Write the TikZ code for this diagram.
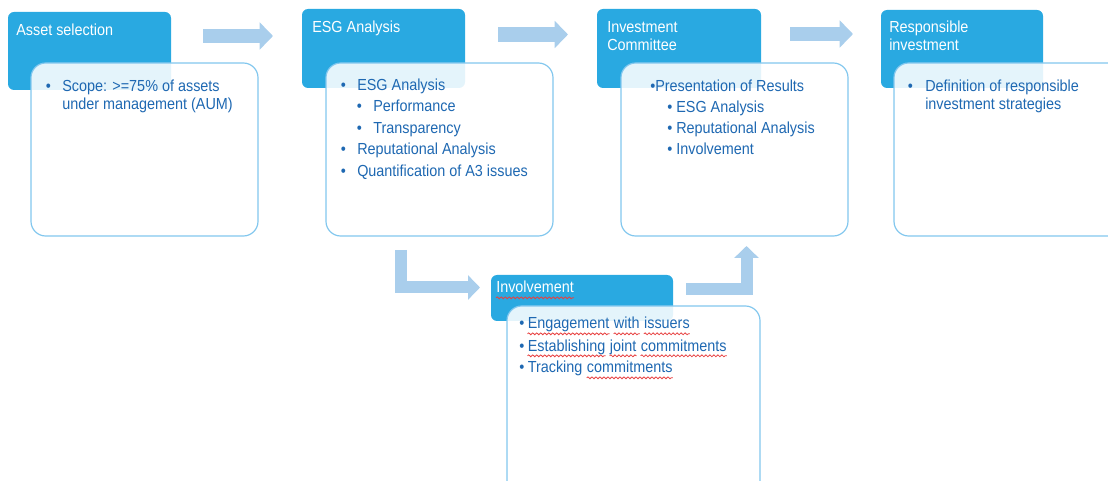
\documentclass[tikz,border=0pt]{standalone}
\usepackage{fontspec}
\setmainfont{Liberation Sans}[FakeStretch=0.9]
\usetikzlibrary{positioning}
\usetikzlibrary{arrows.meta}
\usetikzlibrary{decorations.pathmorphing}

\definecolor{hdrblue}{RGB}{41,169,225}
\definecolor{pale}{RGB}{169,206,236}
\definecolor{edge}{RGB}{130,199,238}
\definecolor{ink}{RGB}{30,104,178}
\definecolor{typo}{RGB}{232,64,64}

\tikzset{
  hdr/.style={fill=hdrblue,draw=none,rounded corners=4.5pt},
  body/.style={draw=edge,fill=white,fill opacity=0.88,rounded corners=11pt,line width=0.9pt},
  ttl/.style={text=white,anchor=base west,inner sep=0pt,font=\fontsize{12}{14}\selectfont},
  itm/.style={text=ink,anchor=base west,inner sep=0pt,font=\fontsize{12}{14}\selectfont},
  flow/.style={pale,line width=11pt,line join=miter,-{Triangle[width=20pt,length=10pt]}},
  elbow/.style={flow,line width=9pt,-{Triangle[width=18pt,length=9pt]}},
  wave/.style={typo,line width=0.6pt,decorate,decoration={snake,amplitude=0.7pt,segment length=3pt}}
}

\begin{document}
\begin{tikzpicture}[x=0.75pt,y=-0.75pt]
\useasboundingbox (0,0) rectangle (1108,481);

\draw[hdr] (8,12) rectangle (171,90);
\draw[body] (31,63) rectangle (258,236);
\draw[hdr] (302,9) rectangle (465,88);
\draw[body] (326,63) rectangle (553,236);
\draw[hdr] (597,9) rectangle (761,88);
\draw[body] (621,63) rectangle (848,236);
\draw[hdr] (881,10) rectangle (1043,88);
\draw[body] (894,63) rectangle (1125,236);
\draw[hdr] (491,275) rectangle (673,321);
\draw[body] (507,306) rectangle (760,495);

% arrows between the steps
\coordinate (a1s) at (203,36);  \coordinate (a1e) at (273,36);
\coordinate (a2s) at (498,34.5); \coordinate (a2e) at (568,34.5);
\coordinate (a3s) at (790,34);  \coordinate (a3e) at (853,34);
\coordinate (d1s) at (400.5,250); \coordinate (d1e) at (480,287.5);
\coordinate (u1s) at (686,289); \coordinate (u1e) at (746.5,246);
\draw[flow] (a1s) -- (a1e);
\draw[flow] (a2s) -- (a2e);
\draw[flow] (a3s) -- (a3e);
\draw[elbow] (d1s) |- (d1e);
\draw[elbow] (u1s) -| (u1e);

% step titles
\node[ttl] (t1) at (16,36) {Asset selection};
\node[ttl] (t2) at (312,33) {ESG Analysis};
\node[ttl] (t3a) at (607,33) {Investment};
\node[ttl] (t3b) at (607,51) {Committee};
\node[ttl] (t4a) at (889,33) {Responsible};
\node[ttl] (t4b) at (889,51) {investment};
\node[ttl] (t5) at (496,293) {Involvement};

% step contents
\node[itm] (b1) at (45.5,92) {•};
\node[itm] (s1a) at (62,92) {Scope: >=75\% of assets};
\node[itm] (s1b) at (62,110) {under management (AUM)};

\node[itm] (b2a) at (340.5,91) {•};
\node[itm] (s2a) at (357,91) {ESG Analysis};
\node[itm] (b2b) at (356.5,112) {•};
\node[itm] (s2b) at (373,112) {Performance};
\node[itm] (b2c) at (356.5,134) {•};
\node[itm] (s2c) at (373,134) {Transparency};
\node[itm] (b2d) at (340.5,155) {•};
\node[itm] (s2d) at (357,155) {Reputational Analysis};
\node[itm] (b2e) at (340.5,177) {•};
\node[itm] (s2e) at (357,177) {Quantification of A3 issues};

\node[itm] (s3a) at (650,92) {•Presentation of Results};
\node[itm] (s3b) at (667,113) {• ESG Analysis};
\node[itm] (s3c) at (667,134) {• Reputational Analysis};
\node[itm] (s3d) at (667,155) {• Involvement};

\node[itm] (b4) at (907.5,92) {•};
\node[itm] (s4a) at (925,92) {Definition of responsible};
\node[itm] (s4b) at (925,110) {investment strategies};

% involvement items, one node per word
\node[itm] (b5a) at (519,329) {•};
\node[itm,base right=2.2pt of b5a] (w5a) {Engagement};
\node[itm,base right=3pt of w5a] (w5b) {with};
\node[itm,base right=3pt of w5b] (w5c) {issuers};
\node[itm] (b5b) at (519,351) {•};
\node[itm,base right=2.2pt of b5b] (w5d) {Establishing};
\node[itm,base right=3pt of w5d] (w5e) {joint};
\node[itm,base right=3pt of w5e] (w5f) {commitments};
\node[itm] (b5c) at (519,373) {•};
\node[itm,base right=2.2pt of b5c] (w5g) {Tracking};
\node[itm,base right=3pt of w5g] (w5h) {commitments};

\foreach \w in {t5,w5a,w5b,w5c,w5d,w5e,w5f,w5h}
  \draw[wave] ([yshift=-3.6pt]\w.base west) -- ([yshift=-3.6pt]\w.base east);

\end{tikzpicture}
\end{document}
